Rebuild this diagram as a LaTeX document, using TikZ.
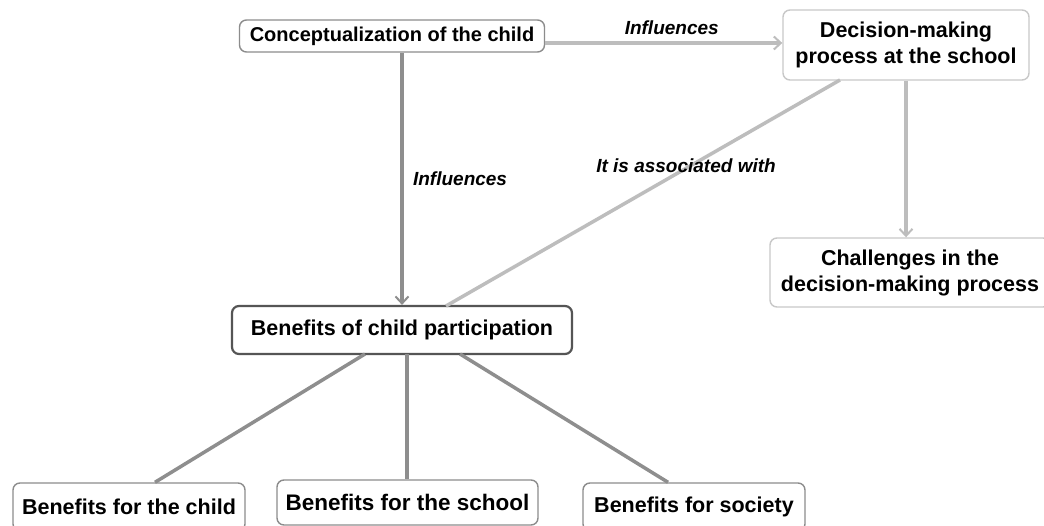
\documentclass[tikz,border=0pt]{standalone}
\usepackage{fontspec}
\setmainfont{Liberation Sans}
\usetikzlibrary{arrows.meta}

\definecolor{bordoscuro}{HTML}{555555}
\definecolor{bordomedio}{HTML}{8C8C8C}
\definecolor{bordochiaro}{HTML}{C8C8C8}
\definecolor{lineamedia}{HTML}{8E8E8E}
\definecolor{lineachiara}{HTML}{BDBDBD}

\tikzset{
    concetto/.style={draw, rounded corners=7pt, fill=white, align=center,
        inner sep=0pt, line width=1.4pt,
        font=\fontsize{21.5}{26}\selectfont\bfseries},
    etichetta/.style={font=\fontsize{19}{22}\selectfont\bfseries\itshape},
    freccia/.style={-{Straight Barb[length=7pt,width=13pt,line width=2pt]}, line width=3.5pt}
}

\begin{document}
\begin{tikzpicture}[x=1pt,y=-1pt]

    % Area del disegno (in pixel)
    \useasboundingbox[fill=white] (0,0) rectangle (1044,526);

    % Nodi della mappa concettuale
    \node[concetto, draw=bordomedio, minimum width=305pt, minimum height=32pt,
        font=\fontsize{20}{24}\selectfont\bfseries] (concezione) at (392,36) {Conceptualization of the child};
    \node[concetto, draw=bordochiaro, minimum width=246pt, minimum height=70pt] (decisione) at (906,45)
        {Decision-making\\process at the school};
    \node[concetto, draw=bordochiaro, minimum width=280pt, minimum height=69pt] (sfide) at (910,272.5)
        {Challenges in the\\decision-making process};
    \node[concetto, draw=bordoscuro, line width=2.2pt, minimum width=340pt, minimum height=48pt] (benefici) at (402,330)
        {Benefits of child participation};

    % Nodi dei benefici (tagliati dal bordo inferiore)
    \node[concetto, draw=bordomedio, minimum width=232pt, minimum height=48pt] (bambino) at (129,507)
        {Benefits for the child};
    \node[concetto, draw=bordomedio, minimum width=261pt, minimum height=45pt,
        font=\fontsize{22.5}{26}\selectfont\bfseries] (scuola) at (407.5,502.5)
        {Benefits for the school};
    \node[concetto, draw=bordomedio, minimum width=222pt, minimum height=48pt] (societa) at (694,507)
        {Benefits for society};

    % Relazioni con freccia
    \draw[freccia, lineachiara] ([yshift=-7pt]concezione.east) -- ([yshift=-7pt]concezione.east -| decisione.west)
        node[midway, above=3pt, xshift=8pt, etichetta, text=black] {Influences};
    \draw[freccia, lineamedia] ([xshift=10pt]concezione.south) -- ([xshift=10pt]concezione.south |- benefici.north)
        node[midway, right=6pt, etichetta, text=black] {Influences};
    \draw[freccia, lineachiara] (decisione.south) -- (decisione.south |- sfide.north);

    % Associazione senza freccia
    \coordinate (assA) at (840,80);
    \coordinate (assB) at (446,306);
    \draw[lineachiara, line width=3.5pt] (assA) -- (assB);
    \node[etichetta] (lblass) at (686,166) {It is associated with};

    % Rami verso i benefici
    \foreach \dest/\da/\a in {bambino/155/365, scuola/407/407, societa/668/460} {
        \draw[lineamedia, line width=3.5pt] (\a,354) -- (\dest.north -| \da,0);
    }

\end{tikzpicture}
\end{document}
